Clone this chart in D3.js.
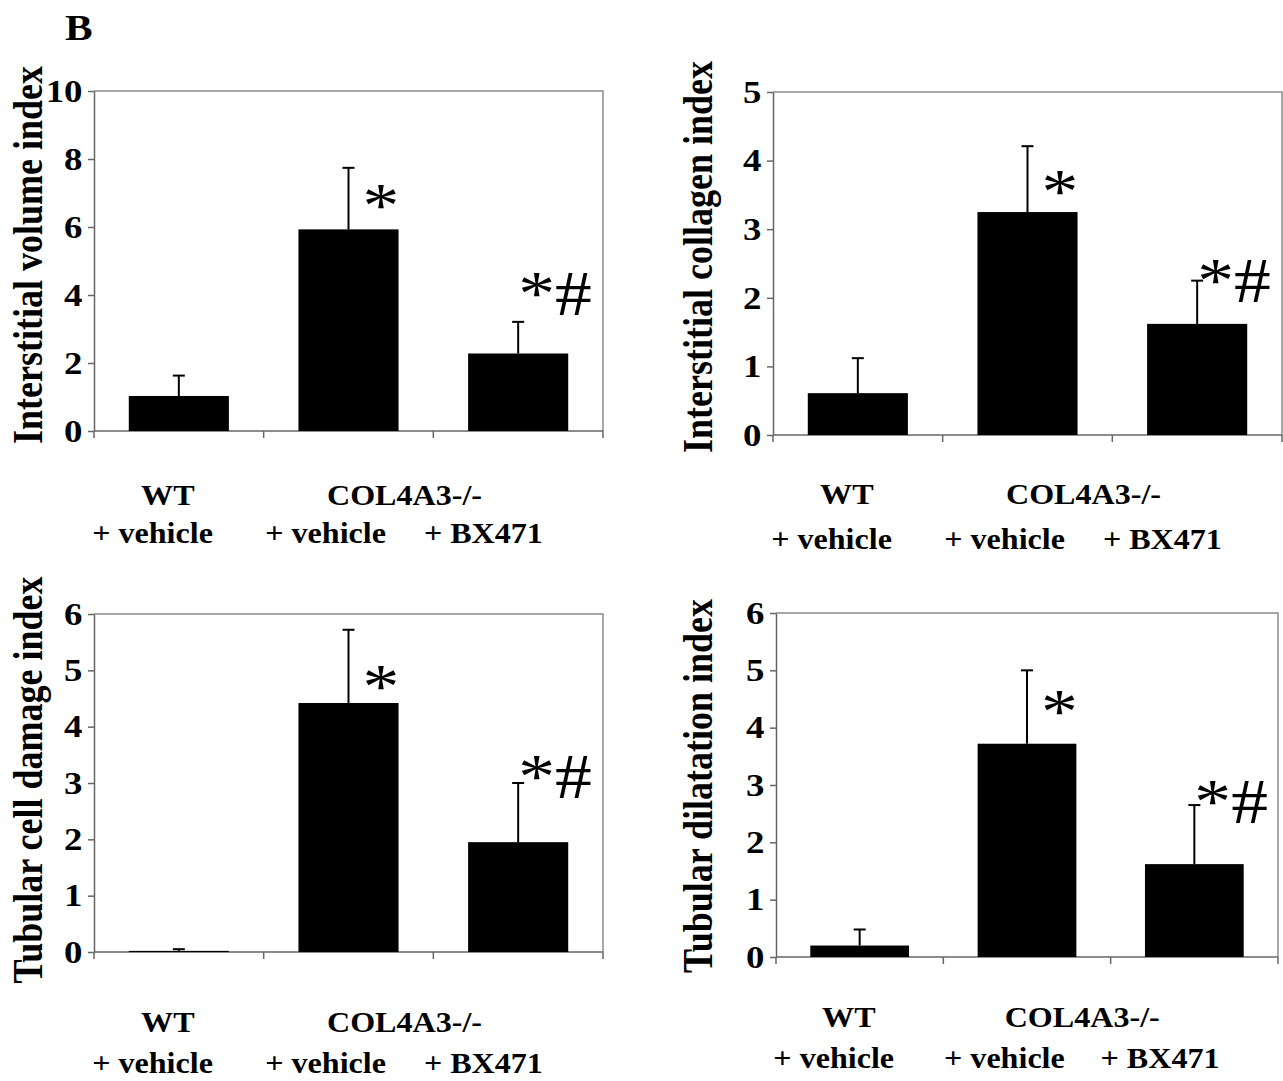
<!DOCTYPE html>
<html>
<head>
<meta charset="utf-8">
<script src="https://cdn.jsdelivr.net/npm/d3@7"></script>
<style>
  body { margin: 0; background: #fff; }
  svg { display: block; }
</style>
</head>
<body>
<svg id="fig" width="1283" height="1081"></svg>
<script>
// ---- data -------------------------------------------------------------
const groups = ["WT + vehicle", "COL4A3-/- + vehicle", "COL4A3-/- + BX471"];
const headerLabels = ["WT", "COL4A3-/-"];
const treatmentLabels = ["+ vehicle", "+ vehicle", "+ BX471"];

const panelTitles = [
  "Interstitial volume index",
  "Interstitial collagen index",
  "Tubular cell damage index",
  "Tubular dilatation index"
];
const yMax = [10, 5, 6, 6];
const yTickValues = [
  [0, 2, 4, 6, 8, 10],
  [0, 1, 2, 3, 4, 5],
  [0, 1, 2, 3, 4, 5, 6],
  [0, 1, 2, 3, 4, 5, 6]
];

const volumeMean = [1.03, 5.93, 2.28];
const volumeSem = [0.60, 1.81, 0.93];
const collagenMean = [0.61, 3.25, 1.62];
const collagenSem = [0.51, 0.96, 0.63];
const damageMean = [0.02, 4.42, 1.95];
const damageSem = [0.03, 1.30, 1.05];
const dilatationMean = [0.20, 3.72, 1.62];
const dilatationSem = [0.28, 1.28, 1.03];

// significance marks: "*" vs WT, "*#" vs WT and vs vehicle
const starLevel = [5.99, 3.24, 4.34, 3.91];
const starHashLevel = [3.40, 1.94, 2.74, 2.34];

const means = [volumeMean, collagenMean, damageMean, dilatationMean];
const sems = [volumeSem, collagenSem, damageSem, dilatationSem];

// ---- layout -----------------------------------------------------------
const frames = [
  { left: 94,  right: 603,  top: 91,  bottom: 431, titleX: 42,  titleY: 255, line1: 505,  line2: 543 },
  { left: 773, right: 1282, top: 92,  bottom: 435, titleX: 712, titleY: 257, line1: 504,  line2: 549 },
  { left: 94,  right: 603,  top: 614, bottom: 952, titleX: 42,  titleY: 780, line1: 1032, line2: 1073 },
  { left: 776, right: 1278, top: 613, bottom: 957, titleX: 712, titleY: 786, line1: 1027, line2: 1068 }
];
// horizontal placement of the category captions, as a share of plot width
const headerAt = [0.145, 0.61];
const treatmentAt = [0.115, 0.455, 0.765];

const SX = 1.15;      // glyphs of the figure are slightly wide
const SX_CAPTION = 1.07;
const SERIF = '"Liberation Serif", "Times New Roman", Times, serif';
const FRAME = "#8c8c8c";
const AXIS = "#666";

const svg = d3.select("#fig");

function wideText(g, x, y, str, size, weight, anchor, sx) {
  return g.append("text")
    .attr("transform", `translate(${x},${y}) scale(${sx || SX},1)`)
    .attr("text-anchor", anchor || "middle")
    .attr("font-family", SERIF)
    .attr("font-size", size)
    .attr("font-weight", weight || "bold")
    .attr("fill", "#000")
    .text(str);
}

// panel letter
wideText(svg, 65, 40, "B", 36, "bold", "start");

frames.forEach((f, p) => {
  const g = svg.append("g");
  const w = f.right - f.left;

  const x = d3.scaleBand()
    .domain(groups)
    .range([f.left, f.right])
    .paddingInner(0.41)
    .paddingOuter(0.205);

  const y = d3.scaleLinear()
    .domain([0, yMax[p]])
    .range([f.bottom, f.top]);

  // plot frame (top and right)
  g.append("path")
    .attr("d", `M${f.left},${f.top}H${f.right}V${f.bottom}`)
    .attr("fill", "none")
    .attr("stroke", FRAME)
    .attr("stroke-width", 1.5);

  // value axis
  const yAxis = g.append("g")
    .attr("transform", `translate(${f.left},0)`)
    .call(d3.axisLeft(y).tickValues(yTickValues[p]).tickSize(6).tickSizeOuter(0).tickPadding(4).tickFormat(d3.format("d")));
  yAxis.select(".domain").attr("stroke", AXIS).attr("stroke-width", 1.5);
  yAxis.selectAll(".tick line").attr("stroke", AXIS).attr("stroke-width", 1.5);
  yAxis.selectAll(".tick text")
    .attr("transform", `scale(${SX},1)`)
    .attr("font-family", SERIF)
    .attr("font-size", 32)
    .attr("font-weight", "bold")
    .attr("fill", "#000");

  // category axis with ticks at group boundaries
  g.append("line")
    .attr("x1", f.left).attr("x2", f.right)
    .attr("y1", y(0)).attr("y2", y(0))
    .attr("stroke", AXIS).attr("stroke-width", 1.5);
  const step = x.step();
  g.selectAll("line.cat-tick")
    .data(d3.range(groups.length + 1))
    .join("line")
    .attr("class", "cat-tick")
    .attr("x1", i => f.left + i * step).attr("x2", i => f.left + i * step)
    .attr("y1", y(0)).attr("y2", y(0) + 7)
    .attr("stroke", AXIS).attr("stroke-width", 1.5);

  // bars
  const rows = groups.map((k, i) => ({ k, m: means[p][i], s: sems[p][i] }));
  g.selectAll("rect.bar")
    .data(rows)
    .join("rect")
    .attr("class", "bar")
    .attr("x", d => x(d.k))
    .attr("width", x.bandwidth())
    .attr("y", d => y(d.m))
    .attr("height", d => y(0) - y(d.m))
    .attr("fill", "#000");

  // upper error bars
  const cx = d => x(d.k) + x.bandwidth() / 2;
  g.selectAll("line.err")
    .data(rows)
    .join("line")
    .attr("class", "err")
    .attr("x1", cx).attr("x2", cx)
    .attr("y1", d => y(d.m)).attr("y2", d => y(d.m + d.s))
    .attr("stroke", "#000").attr("stroke-width", 2);
  g.selectAll("line.cap")
    .data(rows)
    .join("line")
    .attr("class", "cap")
    .attr("x1", d => cx(d) - 6).attr("x2", d => cx(d) + 6)
    .attr("y1", d => y(d.m + d.s)).attr("y2", d => y(d.m + d.s))
    .attr("stroke", "#000").attr("stroke-width", 2);

  // significance marks
  wideText(g, cx(rows[1]) + 14, y(starLevel[p]), "*", 64, "normal", "start");
  wideText(g, cx(rows[2]), y(starHashLevel[p]), "*#", 64, "normal", "start");

  // axis title
  g.append("text")
    .attr("transform", `translate(${f.titleX},${f.titleY}) scale(${SX},1) rotate(-90)`)
    .attr("text-anchor", "middle")
    .attr("font-family", SERIF)
    .attr("font-size", 36)
    .attr("font-weight", "bold")
    .attr("fill", "#000")
    .text(panelTitles[p]);

  // category captions
  headerLabels.forEach((t, i) => wideText(g, f.left + headerAt[i] * w, f.line1, t, 30, "bold", "middle", SX_CAPTION));
  treatmentLabels.forEach((t, i) => wideText(g, f.left + treatmentAt[i] * w, f.line2, t, 30, "bold", "middle", SX_CAPTION));
});
</script>
</body>
</html>
